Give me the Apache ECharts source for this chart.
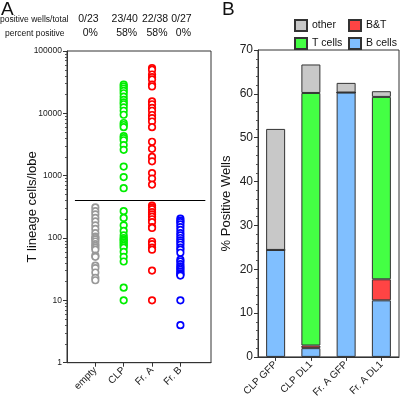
<!DOCTYPE html>
<html><head><meta charset="utf-8">
<script src="https://cdn.jsdelivr.net/npm/echarts@6/dist/echarts.min.js"></script>
<style>html,body{margin:0;padding:0;background:#fff}#c{width:400px;height:400px}</style>
</head><body><div id="c"></div>
<script>
// ---- Panel A data ----
const catsA = ['empty', 'CLP', 'Fr. A', 'Fr. B'];
const emptyVals = [310, 270, 240, 210, 185, 160, 140, 120, 105, 100, 95, 88, 80, 75, 70, 65, 52, 50, 36, 33, 28, 23, 21];
const clpVals = [29000, 27000, 25000, 23000, 21000, 18500, 16500, 15000, 14000, 12500, 11000, 9500, 7000, 6500, 6000, 4300, 4000, 3700, 3100, 2600, 1400, 950, 630,
  270, 210, 160, 130, 110, 100, 95, 90, 85, 80, 75, 70, 60, 50, 42, 16, 10];
const frAVals = [53000, 50000, 42000, 38000, 35000, 29000, 27000, 15500, 14000, 12200, 11000, 9400, 8400, 7400, 6000, 3500, 2700, 2000, 1700, 1100, 900, 720,
  330, 310, 290, 260, 240, 220, 200, 180, 150, 145, 88, 80, 70, 65, 30, 10];
const frBVals = [205, 190, 180, 165, 150, 135, 120, 110, 100, 92, 85, 78, 70, 65, 58, 45, 42, 38, 35, 33, 31, 29, 27, 26, 25, 10, 4];
const wellsTotal = ['0/23', '23/40', '22/38', '0/27'];
const pctPositive = ['0%', '58%', '58%', '0%'];
const threshold = 410;

// ---- Panel B data ----
const catsB = ['CLP GFP', 'CLP DL1', 'Fr. A GFP', 'Fr. A DL1'];
const bCells = [24.4, 2.0, 60.3, 12.9];
const bAndT = [0, 0.6, 0, 4.8];
const tCells = [0, 57.6, 0, 41.6];
const otherVals = [27.6, 6.5, 2.2, 1.3];

const FONT = 'Liberation Sans';
const scatterColors = ['#999999', '#00ee00', '#ff0000', '#0000ff'];
const allA = [emptyVals, clpVals, frAVals, frBVals];

const minorLog = [];
for (let d = 1; d < 100000; d *= 10) for (let k = 2; k <= 9; k++) minorLog.push(d * k);

const chart = echarts.init(document.getElementById('c'), null, {renderer: 'canvas'});

const scatterSeries = allA.map((vals, i) => ({
  type: 'scatter', xAxisIndex: 0, yAxisIndex: 0,
  symbol: 'circle', symbolSize: 6.5,
  itemStyle: {color: '#fff', borderColor: scatterColors[i], borderWidth: 1.7, opacity: 1},
  data: vals.map(v => [i + 1, v]),
  silent: true, animation: false
}));
scatterSeries[0].markLine = {
  silent: true, symbol: ['none', 'none'], label: {show: false},
  lineStyle: {color: '#000', width: 1, type: 'solid'},
  data: [[{coord: [0.28, threshold]}, {coord: [4.88, threshold]}]]
};

const barStyle = c => ({color: c, borderColor: '#333', borderWidth: 1});
const option = {
  animation: false,
  textStyle: {fontFamily: FONT},
  grid: [
    {left: 67, top: 51, width: 144, height: 311.7, show: true, borderColor: '#333', borderWidth: 1, backgroundColor: 'transparent'},
    {left: 258, top: 50, width: 141, height: 307, show: true, borderColor: '#333', borderWidth: 1, backgroundColor: 'transparent'}
  ],
  xAxis: [
    {type: 'value', gridIndex: 0, min: 0, max: 5.08,
      axisLine: {show: true, onZero: false, lineStyle: {color: '#333'}},
      axisTick: {show: true, length: 4, customValues: [1, 2, 3, 4], lineStyle: {color: '#333'}},
      axisLabel: {show: true, customValues: [1, 2, 3, 4], rotate: 45, fontSize: 10, color: '#222', margin: 6,
        fontFamily: FONT, formatter: v => catsA[Math.round(v) - 1] || ''},
      splitLine: {show: false}},
    {type: 'category', gridIndex: 1, data: catsB,
      axisLine: {show: true, lineStyle: {color: '#333'}},
      axisTick: {show: true, alignWithLabel: true, length: 4, lineStyle: {color: '#333'}},
      axisLabel: {rotate: 45, fontSize: 10, color: '#222', margin: 6, fontFamily: FONT, interval: 0},
      splitLine: {show: false}}
  ],
  yAxis: [
    {type: 'log', gridIndex: 0, logBase: 10, min: 1, max: 100000,
      name: 'T lineage cells/lobe', nameLocation: 'middle', nameGap: 28, nameMoveOverlap: false,
      nameTextStyle: {fontSize: 13, color: '#111', fontFamily: FONT},
      axisLine: {show: true, lineStyle: {color: '#333'}},
      axisTick: {show: true, length: 4, lineStyle: {color: '#333'}},
      axisLabel: {fontSize: 8.5, color: '#222', margin: 5, fontFamily: FONT, formatter: v => String(v)},
      splitLine: {show: false}},
    {type: 'log', gridIndex: 0, logBase: 10, min: 1, max: 100000, position: 'left',
      axisLine: {show: false},
      axisTick: {show: true, length: 2, customValues: minorLog, lineStyle: {color: '#555'}},
      axisLabel: {show: false}, splitLine: {show: false}},
    {type: 'value', gridIndex: 1, min: 0, max: 70, interval: 10,
      name: '% Positive Wells', nameLocation: 'middle', nameGap: 25, nameMoveOverlap: false,
      nameTextStyle: {fontSize: 13, color: '#111', fontFamily: FONT},
      axisLine: {show: true, lineStyle: {color: '#333'}},
      axisTick: {show: true, length: 4, lineStyle: {color: '#333'}},
      minorTick: {show: true, splitNumber: 5, length: 2, lineStyle: {color: '#555'}},
      axisLabel: {fontSize: 12, color: '#222', margin: 5, fontFamily: FONT},
      splitLine: {show: false}}
  ],
  legend: [
    {left: 289, top: 14, orient: 'vertical', itemWidth: 12, itemHeight: 11, itemGap: 5,
      data: ['other', 'T cells'], icon: 'rect',
      textStyle: {fontSize: 10.5, color: '#111', fontFamily: FONT}, selectedMode: false},
    {left: 343, top: 14, orient: 'vertical', itemWidth: 12, itemHeight: 11, itemGap: 5,
      data: ['B&T', 'B cells'], icon: 'rect',
      textStyle: {fontSize: 10.5, color: '#111', fontFamily: FONT}, selectedMode: false}
  ],
  series: [
    ...scatterSeries,
    {name: 'B cells', type: 'bar', stack: 'b', xAxisIndex: 1, yAxisIndex: 2, barWidth: 19, data: bCells, itemStyle: barStyle('#80bfff')},
    {name: 'B&T', type: 'bar', stack: 'b', xAxisIndex: 1, yAxisIndex: 2, barWidth: 19, data: bAndT, itemStyle: barStyle('#ff4444')},
    {name: 'T cells', type: 'bar', stack: 'b', xAxisIndex: 1, yAxisIndex: 2, barWidth: 19, data: tCells, itemStyle: barStyle('#44ff44')},
    {name: 'other', type: 'bar', stack: 'b', xAxisIndex: 1, yAxisIndex: 2, barWidth: 19, data: otherVals, itemStyle: barStyle('#c8c8c8')}
  ]
};
chart.setOption(option);

// header texts aligned to category positions
const graphics = [
  {type: 'text', left: 1, top: 0, style: {text: 'A', fontSize: 19, fill: '#111', fontFamily: FONT}},
  {type: 'text', left: 222, top: 0, style: {text: 'B', fontSize: 19, fill: '#111', fontFamily: FONT}},
  {type: 'text', left: 0, top: 15, style: {text: 'positive wells/total', fontSize: 8.5, fill: '#111', fontFamily: FONT}},
  {type: 'text', left: 5, top: 29, style: {text: 'percent positive', fontSize: 8.5, fill: '#111', fontFamily: FONT}}
];
const hdrOffsets = [-7, 1, 3, 1];
catsA.forEach((c, i) => {
  const px = chart.convertToPixel({xAxisIndex: 0}, i + 1);
  graphics.push({type: 'text', x: px + hdrOffsets[i], y: 14, style: {text: wellsTotal[i], fontSize: 10.5, fill: '#111', fontFamily: FONT, align: 'center'}});
  graphics.push({type: 'text', x: px + hdrOffsets[i] + 2, y: 28, style: {text: pctPositive[i], fontSize: 10.5, fill: '#111', fontFamily: FONT, align: 'center'}});
});
chart.setOption({graphic: graphics});
</script></body></html>
